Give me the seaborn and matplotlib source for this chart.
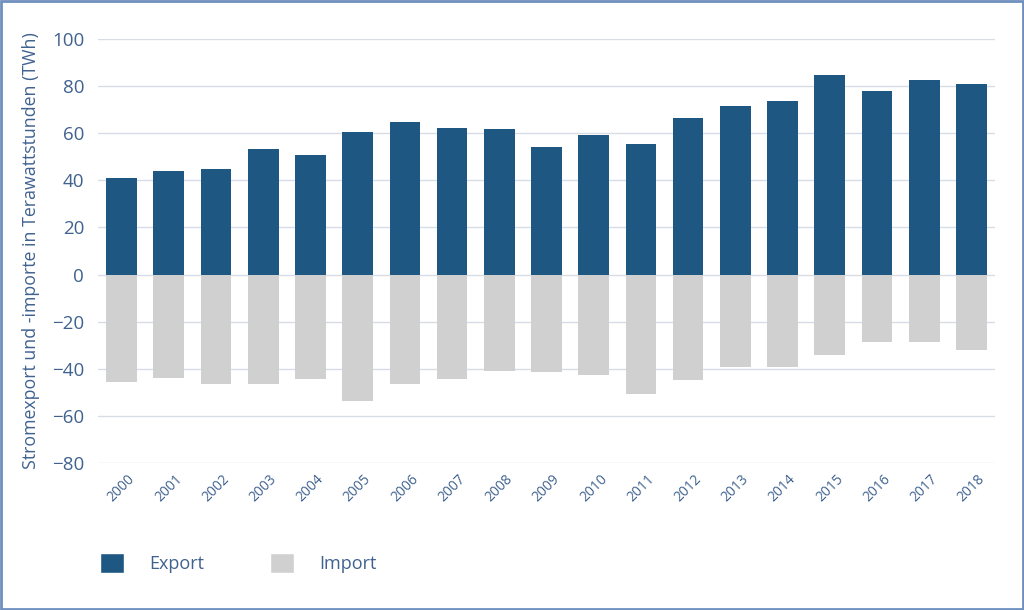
import matplotlib
matplotlib.use("Agg")
import matplotlib.pyplot as plt
from matplotlib.patches import Patch, Rectangle
import seaborn as sns
import pandas as pd

jahre = [str(j) for j in range(2000, 2019)]
export = [41.2, 44.0, 44.9, 53.1, 50.7, 60.7, 64.9, 62.3, 61.8, 54.0,
          59.3, 55.3, 66.4, 71.6, 73.6, 84.7, 77.9, 82.7, 81.1]
importe = [-45.8, -43.8, -46.5, -46.5, -44.5, -53.8, -46.5, -44.5, -40.8, -41.4,
           -42.7, -50.5, -44.7, -39.4, -39.4, -34.2, -28.8, -28.8, -31.9]

df = pd.DataFrame({
    "Jahr": jahre * 2,
    "TWh": export + importe,
    "Art": ["Export"] * len(jahre) + ["Import"] * len(jahre),
})

blau = "#1f5783"
grau = "#d0d0d0"
textfarbe = "#40628f"

sns.set_theme(style="white")
plt.rcParams["font.family"] = ["Open Sans", "DejaVu Sans"]

fig = plt.figure(figsize=(10.24, 6.10), dpi=100)
ax = fig.add_axes([98 / 1024, 1 - 463 / 610, (995 - 98) / 1024, (463 - 39) / 610])

sns.barplot(data=df, x="Jahr", y="TWh", hue="Art", dodge=False, width=0.65,
            palette={"Export": blau, "Import": grau}, saturation=1,
            legend=False, ax=ax, linewidth=0)

ax.set_ylim(-80, 100)
ax.set_xlim(-0.5, len(jahre) - 0.5)
ax.set_yticks(range(-80, 101, 20))
ax.yaxis.grid(True, color="#d8dce6", linewidth=1)
ax.set_axisbelow(True)
for s in ax.spines.values():
    s.set_visible(False)
ax.tick_params(axis="y", labelsize=13.5, labelcolor=textfarbe, length=0, pad=10)
ax.tick_params(axis="x", labelsize=10, labelcolor=textfarbe, length=0, pad=6)
for lbl in ax.get_xticklabels():
    lbl.set_rotation(45)
    lbl.set_ha("center")
ax.set_xlabel("")
ax.set_ylabel("Stromexport und -importe in Terawattstunden (TWh)",
              fontsize=12.8, color=textfarbe)
ax.yaxis.set_label_coords(-58 / 897, 0.5)

handles = [Patch(facecolor=blau, label="Export"), Patch(facecolor=grau, label="Import")]
fig.legend(handles=handles, loc="center left", bbox_to_anchor=(100 / 1024, 1 - 563 / 610),
           ncol=2, frameon=False, fontsize=13, borderpad=0, borderaxespad=0,
           handlelength=1.35, handleheight=1.4,
           handletextpad=1.4, columnspacing=3.6, labelcolor=textfarbe)

fig.patches.append(Rectangle((0.001, 0.002), 0.998, 0.996, transform=fig.transFigure,
                             fill=False, edgecolor="#6f8fbf", linewidth=2))

fig.savefig("out.png", dpi=100)
